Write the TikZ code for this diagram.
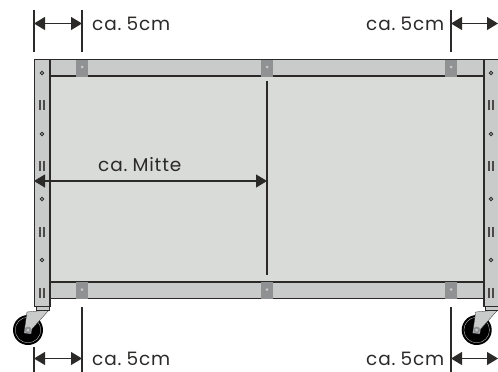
\documentclass[tikz,border=0pt]{standalone}
\usepackage{fontspec}
\setmainfont[WordSpace=0.55,LetterSpace=4.5]{Poppins}
\usetikzlibrary{arrows.meta}
\definecolor{panel}{HTML}{D9DBD8}
\definecolor{rail}{HTML}{C9CACA}
\definecolor{plate}{HTML}{8F9193}
\definecolor{ink}{HTML}{2B2A29}
\tikzset{
  x=1pt,y=-1pt,
  framepart/.style={draw=ink,line width=1.3pt,fill=rail},
  hole/.style={draw=ink,line width=.9pt,fill=rail,circle,inner sep=0pt,minimum size=3.4pt},
  platehole/.style={fill=rail,circle,inner sep=0pt,minimum size=3pt},
  guide/.style={draw=ink,line width=1.2pt},
  dimline/.style={draw=ink,line width=1.2pt,{Triangle[length=11pt,width=13pt]}-{Triangle[length=11pt,width=13pt]}},
  dimtext/.style={text=ink,font=\fontsize{18.5}{20}\selectfont,inner sep=0pt,anchor=base west},
  slot/.style={draw=ink!80!rail,line width=1.5pt},
}
\newcommand{\slotmark}[2]{\draw[slot] (#1-1.9,#2-5)--(#1-1.9,#2+5) (#1+1.9,#2-5)--(#1+1.9,#2+5);}
\newcommand{\postmarks}[1]{%
  \foreach \yy in {73,134,199,260}{\node[hole] at (#1,\yy) {};}
  \foreach \yy in {105,166,232,293}{\slotmark{#1}{\yy}}
}
\newcommand{\railplate}[2]{%
  \fill[plate] (#1-5.7,#2) rectangle (#1+5.7,#2+17);
  \node[platehole] at (#1,#2+7.5) {};
}
\newcommand{\caster}[1]{%
  \fill[black] (#1,330) circle (15);
  \draw[rail,line width=.35pt] (#1,330) circle (12.8);
  \draw[ink,line width=.3pt,fill=rail] (#1-1,312) -- (#1+21,310) -- (#1+4,329) -- (#1+3,334) -- (#1-4,333) -- cycle;
  \fill[plate] (#1,330) circle (3.5);
  \fill[rail] (#1,330) circle (1.5);
  \draw[ink,line width=.3pt,fill=rail] (#1+8,306.5) rectangle (#1+21,310.5);
}
\begin{document}
\begin{tikzpicture}
\useasboundingbox (0,0) rectangle (498,372);
% panel
\fill[panel] (50,76) rectangle (484,282);
% rails
\draw[framepart] (34.5,59.5) rectangle (498.5,76);
\draw[framepart] (34.5,282) rectangle (498.5,298.5);
\railplate{82}{59.5}
\railplate{267}{59.5}
\railplate{451}{59.5}
\railplate{82}{282}
\railplate{267}{282}
\railplate{451}{282}
% casters
\caster{28}
\begin{scope}
\clip (0,0) rectangle (498,372);
\caster{476.7}
\end{scope}
% posts
\draw[framepart] (34.5,59.5) rectangle (50,306.5);
\draw[framepart] (484,59.5) rectangle (505,306.5);
\postmarks{42}
\postmarks{491}
% dimension guides
\coordinate (tl1) at (34,10); \coordinate (tl2) at (34,52);
\coordinate (tm1) at (82,10); \coordinate (tm2) at (82,52);
\coordinate (tr1) at (451,10); \coordinate (tr2) at (451,52);
\coordinate (bl1) at (34,347); \coordinate (bl2) at (34,372);
\coordinate (bm1) at (82,307); \coordinate (bm2) at (82,372);
\coordinate (br1) at (451,307); \coordinate (br2) at (451,372);
\coordinate (c1) at (267,81); \coordinate (c2) at (267,275);
\draw[guide] (tl1)--(tl2);
\draw[guide] (tm1)--(tm2);
\draw[guide] (tr1)--(tr2);
\draw[guide] (bl1)--(bl2);
\draw[guide] (bm1)--(bm2);
\draw[guide] (br1)--(br2);
\draw[guide] (c1)--(c2);
% arrows
\coordinate (a1) at (34,23.5); \coordinate (a2) at (82,23.5);
\coordinate (a3) at (451,23.5); \coordinate (a4) at (498,23.5);
\coordinate (a5) at (34,358.5); \coordinate (a6) at (82,358.5);
\coordinate (a7) at (451,358.5); \coordinate (a8) at (498,358.5);
\coordinate (a9) at (34,181); \coordinate (a10) at (267,181);
\draw[dimline] (a1)--(a2);
\draw[dimline] (a3)--(a4);
\draw[dimline] (a5)--(a6);
\draw[dimline] (a7)--(a8);
\draw[dimline] (a9)--(a10);
% labels
\node[dimtext] (t1) at (92,30) {ca. 5cm};
\node[dimtext] (t2) at (366,30) {ca. 5cm};
\node[dimtext] (t3) at (92,365) {ca. 5cm};
\node[dimtext] (t4) at (366,365) {ca. 5cm};
\node[dimtext] (t5) at (98,171.5) {ca. Mitte};
\end{tikzpicture}
\end{document}
